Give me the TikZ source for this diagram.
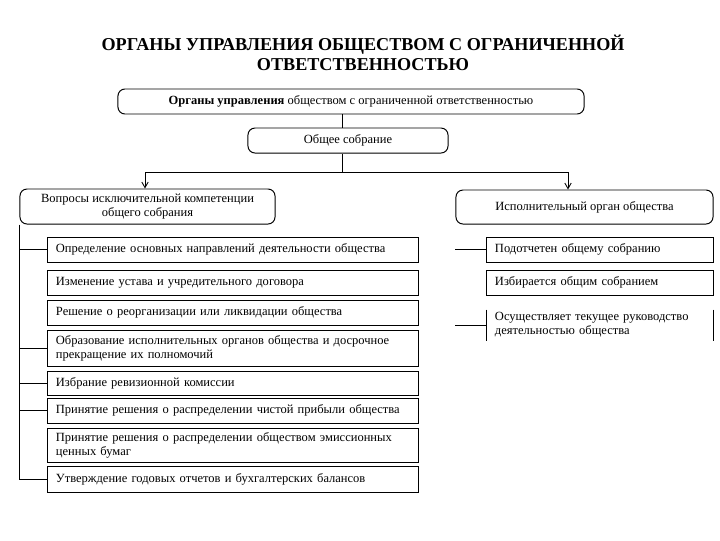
\documentclass[tikz,border=0pt]{standalone}
\usepackage{fontspec}
\setmainfont{Liberation Serif}
\usepackage{tikz}
\usetikzlibrary{arrows.meta,positioning,calc}
\tikzset{
  conn/.style={line width=0.6pt},
  arr/.style={conn,-{Straight Barb[length=4pt,width=4.5pt]}},
  roundbox/.style={draw,line width=0.7pt,rounded corners=5pt,align=center,inner sep=2pt},
  itembox/.style={draw,line width=0.7pt,align=left,inner xsep=0.2cm,inner ysep=1pt},
  openbox/.style={itembox,draw=none},
  ttl/.style={font=\fontsize{12.9}{14.2}\selectfont\bfseries,align=center},
}

\begin{document}
\begin{tikzpicture}[x=0.025cm,y=-0.025cm,font=\fontsize{8.9}{10}\selectfont]
  \useasboundingbox (0,0) rectangle (720,540);
  % title
  \node[ttl] (title) at (363,53) {ОРГАНЫ УПРАВЛЕНИЯ ОБЩЕСТВОМ С ОГРАНИЧЕННОЙ\\ОТВЕТСТВЕННОСТЬЮ};
  % upper levels
  \node[roundbox,minimum width=11.65cm,minimum height=0.625cm] (top) at (351,101.5)
        {\textbf{Органы управления} обществом с ограниченной ответственностью};
  \node[roundbox,minimum width=5cm,minimum height=0.625cm] (gen) at (348,140.5) {Общее собрание};
  \node[roundbox,minimum width=6.375cm,minimum height=0.875cm] (comp) at (147.5,206.5)
        {Вопросы исключительной компетенции\\общего собрания};
  \node[roundbox,minimum width=6.425cm,minimum height=0.85cm] (exec) at (584.5,207)
        {Исполнительный орган общества};
  % split point under the general meeting
  \coordinate (split) at (342,172);
  \coordinate (lftarr) at (145,172);
  \coordinate (rgtarr) at (568,172);
  \draw[conn] (split |- top.south) -- (split |- gen.north);
  \draw[conn] (split |- gen.south) -- (split);
  \draw[arr] (split) -- (lftarr) -- (lftarr |- comp.north);
  \draw[arr] (split) -- (rgtarr) -- (rgtarr |- exec.north);
  % competence questions
  \begin{scope}[every node/.style={itembox,minimum width=9.25cm,text width=8.85cm}]
    \node[minimum height=0.625cm] (q1) at (233,249.5) {Определение основных направлений деятельности общества};
    \node[minimum height=0.625cm] (q2) at (233,282.5) {Изменение устава и учредительного договора};
    \node[minimum height=0.625cm] (q3) at (233,312.5) {Решение о реорганизации или ликвидации общества};
    \node[minimum height=0.9cm]   (q4) at (233,348) {Образование исполнительных органов общества и досрочное\\прекращение их полномочий};
    \node[minimum height=0.6cm]   (q5) at (233,383) {Избрание ревизионной комиссии};
    \node[minimum height=0.625cm] (q6) at (233,410.5) {Принятие решения о распределении чистой прибыли общества};
    \node[minimum height=0.85cm]  (q7) at (233,445) {Принятие решения о распределении обществом эмиссионных\\ценных бумаг};
    \node[minimum height=0.65cm]  (q8) at (233,479) {Утверждение годовых отчетов и бухгалтерских балансов};
  \end{scope}
  \draw[conn] (comp.south west) -- (comp.south west |- q8.west) -- (q8.west);
  \foreach \q in {q1,q4,q5,q6}
    \draw[conn] (comp.south west |- \q.west) -- (\q.west);
  % executive body
  \begin{scope}[every node/.style={itembox,minimum width=5.65cm,text width=5.25cm}]
    \node[minimum height=0.625cm] (r1) at (600,249.5) {Подотчетен общему собранию};
    \node[minimum height=0.625cm] (r2) at (600,282.5) {Избирается общим собранием};
    \node[openbox,minimum height=0.75cm] (r3) at (600,325) {Осуществляет текущее руководство\\деятельностью общества};
  \end{scope}
  \draw[line width=0.7pt] (r3.north west) -- (r3.south west);
  \draw[line width=0.7pt] (r3.north east) -- (r3.south east);
  \foreach \r in {r1,r3}
    \draw[conn] (exec.west |- \r.west) -- (\r.west);
\end{tikzpicture}
\end{document}
